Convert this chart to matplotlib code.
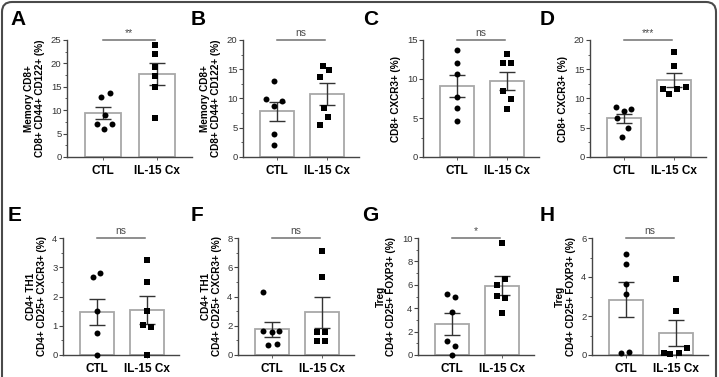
import numpy as np
import matplotlib
matplotlib.use('Agg')
import matplotlib.pyplot as plt
from matplotlib.patches import FancyBboxPatch
from matplotlib.transforms import IdentityTransform
from matplotlib.ticker import MultipleLocator

plt.rcParams['font.family'] = ['Liberation Sans', 'DejaVu Sans']

# --- data ---
groups = ['CTL', 'IL-15 Cx']
letters = ['A', 'B', 'C', 'D', 'E', 'F', 'G', 'H']

ylabels = [
    'Memory CD8+\nCD8+ CD44+ CD122+ (%)',
    'Memory CD8+\nCD8+ CD44+ CD122+ (%)',
    'CD8+ CXCR3+ (%)',
    'CD8+ CXCR3+ (%)',
    'CD4+ TH1\nCD4+ CD25+ CXCR3+ (%)',
    'CD4+ TH1\nCD4+ CD25+ CXCR3+ (%)',
    'Treg\nCD4+ CD25+ FOXP3+ (%)',
    'Treg\nCD4+ CD25+ FOXP3+ (%)',
]
ymax = [25, 20, 15, 20, 4, 8, 10, 6]
ystep = [5, 5, 5, 5, 1, 2, 2, 2]
signif = ['**', 'ns', 'ns', '***', 'ns', 'ns', '*', 'ns']

# bar heights (mean) and SEM, CTL / IL-15 Cx
ctl_mean = [9.4, 7.8, 9.1, 6.6, 1.48, 1.75, 2.66, 2.84]
ctl_sem = [1.3, 1.6, 1.45, 0.75, 0.45, 0.53, 0.95, 0.9]
il15_mean = [17.7, 10.8, 9.8, 13.2, 1.54, 2.92, 5.92, 1.13]
il15_sem = [2.3, 1.85, 1.15, 1.2, 0.47, 1.05, 0.8, 0.65]

ctl_pts = [
    [13.7, 12.8, 9.0, 7.1, 7.1, 5.9],
    [13.0, 9.9, 9.6, 8.7, 3.9, 2.1],
    [13.7, 12.0, 10.6, 7.75, 6.3, 4.6],
    [8.5, 7.9, 8.2, 6.6, 5.0, 3.4],
    [2.66, 2.82, 1.5, 0.76, 0.0],
    [4.29, 1.63, 1.58, 1.63, 0.67, 0.73],
    [5.2, 4.98, 3.67, 1.2, 0.8, 0.0],
    [5.2, 4.69, 3.66, 3.13, 0.1, 0.14],
]
il15_pts = [
    [23.9, 22.0, 19.2, 17.3, 14.9, 8.3],
    [15.5, 14.9, 13.7, 8.3, 6.9, 5.5],
    [13.2, 12.0, 12.0, 8.4, 7.4, 6.2],
    [17.9, 15.6, 11.7, 11.7, 11.9, 10.7],
    [3.24, 2.48, 1.49, 1.03, 0.97, 0.0],
    [7.09, 5.32, 1.54, 1.54, 0.94, 0.94],
    [9.57, 6.5, 5.99, 5.07, 4.84, 3.58],
    [3.9, 2.25, 0.36, 0.1, 0.07, 0.1],
]
# horizontal scatter of the dots
ctl_dx = [
    [0.12, -0.04, 0.04, -0.12, 0.17, 0.02],
    [-0.06, -0.22, 0.1, -0.06, -0.06, -0.06],
    [0, 0, 0, 0, 0, 0],
    [-0.16, 0, 0.15, -0.13, 0.08, -0.03],
    [-0.08, 0.07, 0, 0, 0],
    [-0.18, -0.17, 0, 0.15, -0.07, 0.1],
    [-0.09, 0.07, 0, -0.09, 0.07, 0],
    [0, 0, 0, 0, -0.1, 0.06],
]
il15_dx = [
    [-0.03, -0.03, -0.03, -0.03, -0.03, -0.03],
    [-0.08, 0.04, -0.14, -0.06, 0.02, -0.14],
    [0, -0.08, 0.08, -0.08, 0.08, 0],
    [0, 0, -0.21, 0.07, 0.25, -0.09],
    [0, 0, 0, -0.08, 0.08, 0],
    [0, 0, -0.1, 0.07, -0.09, 0.07],
    [0, 0.07, -0.09, -0.09, 0.07, 0],
    [0, 0, 0.22, -0.23, -0.11, 0.06],
]

# --- layout in pixels: y-axis x, axis width, top, bottom ---
W, H = 719, 377
ax_left = [67, 243, 423, 590, 63, 238, 418, 592]
ax_width = [125, 116, 116, 116, 116, 116, 116, 116]
row_top = [40, 238]
row_bot = [157, 355]
letter_pos = [(10, 10), (191, 10), (363, 10), (540, 10),
              (8, 206), (191, 206), (362, 206), (540, 206)]

fig = plt.figure(figsize=(W / 100, H / 100), dpi=100)

axis_col = '#444444'
for i in range(8):
    r = i // 4
    l = ax_left[i] / W
    b = 1 - row_bot[r] / H
    h = (row_bot[r] - row_top[r]) / H
    ax = fig.add_axes([l, b, ax_width[i] / W, h])

    means = [ctl_mean[i], il15_mean[i]]
    sems = [ctl_sem[i], il15_sem[i]]
    ax.bar([0, 1], means, width=0.68, color='white', edgecolor='#a8a8a8',
           linewidth=1.3, zorder=1)
    ax.errorbar([0, 1], means, yerr=sems, fmt='none', ecolor='#333333',
                elinewidth=1.0, capsize=5.5, capthick=1.0, zorder=2)

    ax.plot(np.array(ctl_dx[i]), ctl_pts[i], 'o', color='black', ms=4.3,
            mew=0, zorder=3, clip_on=False)
    ax.plot(1 + np.array(il15_dx[i]), il15_pts[i], 's', color='black',
            ms=4.0, mew=0, zorder=3, clip_on=False)

    ax.set_xlim(-0.67, 1.65)
    ax.set_ylim(0, ymax[i])
    ax.yaxis.set_major_locator(MultipleLocator(ystep[i]))
    ax.yaxis.set_minor_locator(MultipleLocator(ystep[i] / 2))
    ax.set_xticks([0, 1])
    ax.set_xticklabels(groups, fontsize=8.5, fontweight='bold')

    for s in ['top', 'right']:
        ax.spines[s].set_visible(False)
    for s in ['left', 'bottom']:
        ax.spines[s].set_color(axis_col)
        ax.spines[s].set_linewidth(1.0)
    ax.tick_params(axis='y', which='major', length=3, width=0.8,
                   color=axis_col, labelsize=6.8, pad=1, labelcolor='#333333')
    ax.tick_params(axis='y', which='minor', length=1.8, width=0.6,
                   color=axis_col)
    ax.tick_params(axis='x', length=2, width=0.6, color=axis_col, pad=4)
    ax.set_ylabel(ylabels[i], fontsize=7.2, fontweight='bold',
                  labelpad=4, linespacing=1.1)

    # significance bracket
    yl = ymax[i] * 1.0
    ax.plot([0, 0.97], [yl, yl], color='#707070', lw=1.1, clip_on=False)
    ax.text(0.485, yl + ymax[i] * 0.02, signif[i], ha='center', va='bottom',
            fontsize=7.5, color='#4a4a4a')

    fig.text(letter_pos[i][0] / W, 1 - letter_pos[i][1] / H, letters[i],
             fontsize=15, fontweight='bold', va='top', ha='left')

# outer rounded frame (bottom edge cut off)
frame = FancyBboxPatch((2, -30), 714, 405,
                       boxstyle='round,pad=0,rounding_size=10',
                       transform=IdentityTransform(), fill=False,
                       edgecolor='#4a4a4a', linewidth=1.5)
fig.patches.append(frame)

fig.savefig('out.png', dpi=100)
